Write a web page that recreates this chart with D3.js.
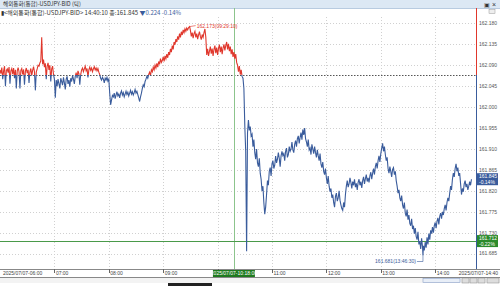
<!DOCTYPE html>
<html>
<head>
<meta charset="utf-8">
<script src="https://cdn.jsdelivr.net/npm/d3@7"></script>
<style>
  body { margin: 0; background: #fff; }
  text { font-family: "Liberation Sans Narrow", "Liberation Sans", sans-serif; }
  .kr { font-family: "Noto Sans CJK KR", "Noto Sans", sans-serif; }
</style>
</head>
<body>
<div id="chart"></div>
<script>
// tick data, USDJPY bid, 2025/07/07
var ticks = [
["06:00",162.080],["06:01",162.072],["06:02",162.085],["06:03",162.060],["06:04",162.078],["06:05",162.088],
["06:06",162.045],["06:07",162.079],["06:08",162.082],["06:09",162.074],["06:10",162.086],["06:11",162.050],
["06:12",162.078],["06:13",162.083],["06:14",162.071],["06:15",162.084],["06:16",162.062],["06:17",162.080],
["06:18",162.040],["06:19",162.078],["06:20",162.085],["06:21",162.076],["06:22",162.040],["06:23",162.079],
["06:24",162.083],["06:25",162.070],["06:26",162.081],["06:27",162.048],["06:28",162.077],["06:29",162.084],
["06:30",162.073],["06:31",162.080],["06:32",162.052],["06:33",162.076],["06:34",162.083],["06:35",162.068],
["06:36",162.079],["06:37",162.087],["06:38",162.076],["06:39",162.036],["06:40",162.075],["06:41",162.082],
["06:42",162.090],["06:43",162.088],["06:44",162.095],["06:45",162.099],["06:46",162.150],["06:47",162.092],
["06:48",162.102],["06:49",162.086],["06:50",162.094],["06:51",162.060],["06:52",162.088],["06:53",162.095],
["06:54",162.080],["06:55",162.090],["06:56",162.055],["06:57",162.082],["06:58",162.088],["06:59",162.070],
["07:00",162.060],["07:01",162.020],["07:02",162.058],["07:03",162.045],["07:04",162.060],["07:05",162.050],
["07:06",162.040],["07:07",162.062],["07:08",162.055],["07:09",162.047],["07:10",162.064],["07:11",162.052],
["07:12",162.038],["07:13",162.060],["07:14",162.066],["07:15",162.050],["07:16",162.058],["07:17",162.044],
["07:18",162.062],["07:19",162.055],["07:20",162.068],["07:21",162.060],["07:22",162.050],["07:23",162.066],
["07:24",162.074],["07:25",162.062],["07:26",162.078],["07:27",162.072],["07:28",162.048],["07:29",162.070],
["07:30",162.080],["07:31",162.084],["07:32",162.076],["07:33",162.082],["07:34",162.088],["07:35",162.078],
["07:36",162.083],["07:37",162.064],["07:38",162.080],["07:39",162.086],["07:40",162.079],["07:41",162.084],
["07:42",162.076],["07:43",162.082],["07:44",162.087],["07:45",162.080],["07:46",162.084],["07:47",162.078],
["07:48",162.083],["07:49",162.075],["07:50",162.070],["07:51",162.062],["07:52",162.058],["07:53",162.064],
["07:54",162.060],["07:55",162.052],["07:56",162.062],["07:57",162.058],["07:58",162.064],["07:59",162.056],
["08:00",162.060],["08:01",162.030],["08:02",162.005],["08:03",162.015],["08:04",162.025],["08:05",162.022],
["08:06",162.030],["08:07",162.018],["08:08",162.026],["08:09",162.033],["08:10",162.024],["08:11",162.028],
["08:12",162.020],["08:13",162.030],["08:14",162.035],["08:15",162.026],["08:16",162.031],["08:17",162.022],
["08:18",162.028],["08:19",162.034],["08:20",162.027],["08:21",162.032],["08:22",162.024],["08:23",162.030],
["08:24",162.036],["08:25",162.028],["08:26",162.033],["08:27",162.026],["08:28",162.031],["08:29",162.038],
["08:30",162.030],["08:31",162.034],["08:32",162.027],["08:33",162.020],["08:34",162.012],["08:35",162.022],
["08:36",162.030],["08:37",162.040],["08:38",162.048],["08:39",162.044],["08:40",162.055],["08:41",162.060],
["08:42",162.066],["08:43",162.062],["08:44",162.070],["08:45",162.075],["08:46",162.068],["08:47",162.080],
["08:48",162.076],["08:49",162.086],["08:50",162.080],["08:51",162.090],["08:52",162.084],["08:53",162.094],
["08:54",162.086],["08:55",162.098],["08:56",162.092],["08:57",162.104],["08:58",162.096],["08:59",162.100],
["09:00",162.108],["09:01",162.098],["09:02",162.110],["09:03",162.104],["09:04",162.114],["09:05",162.106],
["09:06",162.118],["09:07",162.112],["09:08",162.125],["09:09",162.118],["09:10",162.132],["09:11",162.124],
["09:12",162.140],["09:13",162.134],["09:14",162.146],["09:15",162.140],["09:16",162.152],["09:17",162.145],
["09:18",162.158],["09:19",162.150],["09:20",162.162],["09:21",162.155],["09:22",162.166],["09:23",162.160],
["09:24",162.168],["09:25",162.163],["09:26",162.170],["09:27",162.166],["09:28",162.171],["09:29:10",162.173],
["09:30",162.165],["09:31",162.152],["09:32",162.160],["09:33",162.148],["09:34",162.158],["09:35",162.163],
["09:36",162.150],["09:37",162.158],["09:38",162.146],["09:39",162.155],["09:40",162.162],["09:41",162.152],
["09:42",162.145],["09:43",162.156],["09:44",162.150],["09:45",162.160],["09:46",162.168],["09:47",162.150],
["09:48",162.112],["09:49",162.125],["09:50",162.110],["09:51",162.120],["09:52",162.130],["09:53",162.115],
["09:54",162.126],["09:55",162.110],["09:56",162.124],["09:57",162.132],["09:58",162.116],["09:59",162.128],
["10:00",162.112],["10:01",162.126],["10:02",162.134],["10:03",162.118],["10:04",162.130],["10:05",162.114],
["10:06",162.127],["10:07",162.135],["10:08",162.122],["10:09",162.132],["10:10",162.140],["10:11",162.124],
["10:12",162.136],["10:13",162.120],["10:14",162.130],["10:15",162.114],["10:16",162.124],["10:17",162.108],
["10:18",162.118],["10:19",162.104],["10:20",162.114],["10:21",162.096],["10:22",162.090],["10:23",162.076],
["10:24",162.088],["10:25",162.070],["10:26",162.080],["10:27",162.066],["10:28",162.062],["10:29",162.040],
["10:30",161.960],["10:31",161.905],["10:32",161.690],["10:33",161.945],["10:34",161.972],["10:35",161.950],
["10:36",161.958],["10:37",161.938],["10:38",161.942],["10:39",161.915],["10:40",161.930],["10:41",161.902],
["10:42",161.888],["10:43",161.910],["10:44",161.880],["10:45",161.872],["10:46",161.890],["10:47",161.858],
["10:48",161.845],["10:49",161.820],["10:50",161.830],["10:51",161.795],["10:52",161.770],["10:53",161.785],
["10:54",161.812],["10:55",161.842],["10:56",161.832],["10:57",161.862],["10:58",161.870],["10:59",161.852],
["11:00",161.878],["11:01",161.885],["11:02",161.868],["11:03",161.875],["11:04",161.895],["11:05",161.880],
["11:06",161.888],["11:07",161.902],["11:08",161.890],["11:09",161.872],["11:10",161.895],["11:11",161.905],
["11:12",161.896],["11:13",161.900],["11:14",161.885],["11:15",161.905],["11:16",161.912],["11:17",161.892],
["11:18",161.898],["11:19",161.915],["11:20",161.905],["11:21",161.910],["11:22",161.925],["11:23",161.908],
["11:24",161.902],["11:25",161.920],["11:26",161.928],["11:27",161.915],["11:28",161.932],["11:29",161.938],
["11:30",161.922],["11:31",161.935],["11:32",161.945],["11:33",161.930],["11:34",161.952],["11:35",161.940],
["11:36",161.955],["11:37",161.932],["11:38",161.925],["11:39",161.915],["11:40",161.930],["11:41",161.908],
["11:42",161.912],["11:43",161.898],["11:44",161.920],["11:45",161.910],["11:46",161.900],["11:47",161.915],
["11:48",161.902],["11:49",161.892],["11:50",161.908],["11:51",161.895],["11:52",161.885],["11:53",161.900],
["11:54",161.878],["11:55",161.870],["11:56",161.882],["11:57",161.862],["11:58",161.855],["11:59",161.868],
["12:00",161.848],["12:01",161.835],["12:02",161.852],["12:03",161.830],["12:04",161.818],["12:05",161.825],
["12:06",161.805],["12:07",161.812],["12:08",161.795],["12:09",161.785],["12:10",161.808],["12:11",161.815],
["12:12",161.798],["12:13",161.805],["12:14",161.820],["12:15",161.800],["12:16",161.790],["12:17",161.782],
["12:18",161.778],["12:19",161.795],["12:20",161.785],["12:21",161.812],["12:22",161.830],["12:23",161.842],
["12:24",161.828],["12:25",161.835],["12:26",161.848],["12:27",161.838],["12:28",161.825],["12:29",161.840],
["12:30",161.832],["12:31",161.845],["12:32",161.828],["12:33",161.836],["12:34",161.822],["12:35",161.838],
["12:36",161.845],["12:37",161.832],["12:38",161.840],["12:39",161.826],["12:40",161.842],["12:41",161.850],
["12:42",161.835],["12:43",161.846],["12:44",161.855],["12:45",161.840],["12:46",161.848],["12:47",161.838],
["12:48",161.852],["12:49",161.860],["12:50",161.845],["12:51",161.858],["12:52",161.868],["12:53",161.855],
["12:54",161.872],["12:55",161.880],["12:56",161.868],["12:57",161.885],["12:58",161.895],["12:59",161.882],
["13:00",161.900],["13:01",161.912],["13:02",161.922],["13:03",161.905],["13:04",161.915],["13:05",161.898],
["13:06",161.885],["13:07",161.892],["13:08",161.868],["13:09",161.858],["13:10",161.872],["13:11",161.862],
["13:12",161.850],["13:13",161.866],["13:14",161.870],["13:15",161.855],["13:16",161.862],["13:17",161.842],
["13:18",161.830],["13:19",161.815],["13:20",161.822],["13:21",161.805],["13:22",161.798],["13:23",161.810],
["13:24",161.790],["13:25",161.782],["13:26",161.795],["13:27",161.772],["13:28",161.765],["13:29",161.780],
["13:30",161.758],["13:31",161.768],["13:32",161.750],["13:33",161.745],["13:34",161.760],["13:35",161.738],
["13:36",161.745],["13:37",161.728],["13:38",161.740],["13:39",161.722],["13:40",161.715],["13:41",161.732],
["13:42",161.705],["13:43",161.712],["13:44",161.695],["13:45",161.718],["13:46",161.700],["13:46:30",161.681],
["13:47",161.702],["13:48",161.692],["13:49",161.710],["13:50",161.698],["13:51",161.720],["13:52",161.705],
["13:53",161.728],["13:54",161.715],["13:55",161.735],["13:56",161.728],["13:57",161.742],["13:58",161.730],
["13:59",161.745],["14:00",161.752],["14:01",161.740],["14:02",161.755],["14:03",161.762],["14:04",161.748],
["14:05",161.765],["14:06",161.772],["14:07",161.760],["14:08",161.775],["14:09",161.768],["14:10",161.782],
["14:11",161.790],["14:12",161.778],["14:13",161.795],["14:14",161.805],["14:15",161.798],["14:16",161.815],
["14:17",161.830],["14:18",161.822],["14:19",161.845],["14:20",161.858],["14:21",161.850],["14:22",161.868],
["14:23",161.878],["14:24",161.862],["14:25",161.870],["14:26",161.852],["14:27",161.858],["14:28",161.835],
["14:29",161.812],["14:30",161.825],["14:31",161.818],["14:32",161.835],["14:33",161.842],["14:34",161.828],
["14:35",161.835],["14:36",161.822],["14:37",161.830],["14:38",161.840],["14:39",161.832],["14:40",161.845]
];

var yTicks = [162.180, 162.135, 162.090, 162.045, 162.000, 161.955, 161.910, 161.865, 161.820, 161.775, 161.730, 161.685];
var xTicks = ["07:00", "08:00", "09:00", "10:00", "11:00", "12:00", "13:00", "14:00"];
var xLabels = ["07:00", "08:00", "09:00", "11:00", "12:00", "13:00", "14:00"]; // 10:00 sits under the crosshair box
var prevClose = 162.069;
var lastPrice = 161.845, lastChg = "-0.14%";
var crossTime = "10:18", crossPrice = 161.712, crossChg = "-0.22%";
var hiPoint = ["09:29:10", 162.173], loPoint = ["13:46:30", 161.681];

var W = 500, H = 286;
var plotL = 0, plotR = 476, plotT = 8, plotB = 269;
var red = "#e0372c", blue = "#3a5c9c", green = "#2b8a2b";
var fs = 5;

var parseT = function (t) { return d3.timeParse("%H:%M:%S")(t.length == 5 ? t + ":00" : t); };
var data = ticks.map(function (d) { return { t: parseT(d[0]), v: d[1] }; });

var x = d3.scaleTime().domain([parseT("06:00"), parseT("14:45")]).range([plotL, plotR]);
var y = d3.scaleLinear().domain([161.652, 162.213]).range([plotB, plotT]);

var svg = d3.select("#chart").append("svg").attr("width", W).attr("height", H);

// title bar
svg.append("rect").attr("x", 0).attr("y", 0).attr("width", W).attr("height", 8).attr("fill", "#dce8f4");
svg.append("line").attr("x1", 0).attr("x2", W).attr("y1", 8.5).attr("y2", 8.5).attr("stroke", "#b8cbe0");
svg.append("text").attr("class", "kr").attr("x", 3).attr("y", 6.3).attr("font-size", 5.6).attr("fill", "#333")
  .text("해외통화(통합)-USDJPY-BID (틱)");
svg.append("text").attr("x", 484).attr("y", 6.5).attr("font-size", 6).attr("fill", "#333").text("▣");
svg.append("text").attr("x", 492).attr("y", 6.5).attr("font-size", 7).attr("fill", "#333").text("×");

// grid
var g = svg.append("g");
g.selectAll(".hg").data(yTicks).enter().append("line")
  .attr("x1", plotL).attr("x2", plotR)
  .attr("y1", function (d) { return Math.round(y(d)) + 0.5; })
  .attr("y2", function (d) { return Math.round(y(d)) + 0.5; })
  .attr("stroke", "#d0d0d0").attr("stroke-dasharray", "1,2");
g.selectAll(".vg").data(xTicks).enter().append("line")
  .attr("x1", function (d) { return Math.round(x(parseT(d))) + 0.5; })
  .attr("x2", function (d) { return Math.round(x(parseT(d))) + 0.5; })
  .attr("y1", plotT + 9).attr("y2", plotB)
  .attr("stroke", "#d0d0d0").attr("stroke-dasharray", "1,2");

// previous close reference
var refY = y(prevClose);
svg.append("line").attr("x1", plotL).attr("x2", plotR)
  .attr("y1", Math.round(refY) + 0.5).attr("y2", Math.round(refY) + 0.5)
  .attr("stroke", "#555").attr("stroke-dasharray", "1.5,1.5");

// crosshair
svg.append("line").attr("x1", Math.round(x(parseT(crossTime))) + 0.5).attr("x2", Math.round(x(parseT(crossTime))) + 0.5)
  .attr("y1", plotT).attr("y2", plotB).attr("stroke", "#8cc48c");
svg.append("line").attr("x1", plotL).attr("x2", plotR)
  .attr("y1", Math.round(y(crossPrice)) + 0.5).attr("y2", Math.round(y(crossPrice)) + 0.5)
  .attr("stroke", "#4a9a4a");

// price line, red above previous close, blue below
var defs = svg.append("defs");
defs.append("clipPath").attr("id", "above").append("rect")
  .attr("x", plotL).attr("y", plotT).attr("width", plotR - plotL).attr("height", refY - plotT);
defs.append("clipPath").attr("id", "below").append("rect")
  .attr("x", plotL).attr("y", refY).attr("width", plotR - plotL).attr("height", plotB - refY);
var line = d3.line().x(function (d) { return x(d.t); }).y(function (d) { return y(d.v); });
svg.append("path").datum(data).attr("d", line).attr("fill", "none").attr("stroke", red)
  .attr("stroke-width", 1.1).attr("clip-path", "url(#above)");
svg.append("path").datum(data).attr("d", line).attr("fill", "none").attr("stroke", blue)
  .attr("stroke-width", 1.1).attr("clip-path", "url(#below)");

// high / low notes
var hx = x(parseT(hiPoint[0])), hy = y(hiPoint[1]);
svg.append("line").attr("x1", hx).attr("y1", hy).attr("x2", hx + 6).attr("y2", hy - 1).attr("stroke", red).attr("stroke-width", 0.6);
svg.append("text").attr("x", hx + 7).attr("y", hy + 1).attr("font-size", fs).attr("fill", red)
  .text(hiPoint[1].toFixed(3) + "(" + hiPoint[0] + ")");
var lx = x(parseT(loPoint[0])), ly = y(loPoint[1]);
svg.append("line").attr("x1", lx - 6).attr("y1", ly + 6).attr("x2", lx).attr("y2", ly + 6).attr("stroke", blue).attr("stroke-width", 0.6);
svg.append("line").attr("x1", lx).attr("y1", ly + 6).attr("x2", lx).attr("y2", ly).attr("stroke", blue).attr("stroke-width", 0.6);
svg.append("text").attr("x", lx - 7).attr("y", ly + 7.5).attr("text-anchor", "end").attr("font-size", fs).attr("fill", blue)
  .text(loPoint[1].toFixed(3) + "(" + loPoint[0] + ")");

// right axis
svg.append("line").attr("x1", plotR + 0.5).attr("x2", plotR + 0.5).attr("y1", plotT).attr("y2", refY).attr("stroke", red);
svg.append("line").attr("x1", plotR + 0.5).attr("x2", plotR + 0.5).attr("y1", refY).attr("y2", plotB).attr("stroke", blue);
svg.selectAll(".yl").data(yTicks).enter().append("text")
  .attr("x", plotR + 3).attr("y", function (d) { return y(d) + 1.8; })
  .attr("font-size", fs).attr("fill", "#555")
  .text(function (d) { return d.toFixed(3); });
svg.append("rect").attr("x", 489).attr("y", 9.5).attr("width", 6).attr("height", 4).attr("fill", "#eee").attr("stroke", "#999").attr("stroke-width", 0.5);

function priceTag(v, chg, color) {
  var ty = y(v);
  svg.append("rect").attr("x", plotR + 1).attr("y", ty - 6).attr("width", 21).attr("height", 12).attr("fill", color);
  svg.append("text").attr("x", plotR + 3).attr("y", ty - 1).attr("font-size", fs).attr("fill", "#fff").text(v.toFixed(3));
  svg.append("text").attr("x", plotR + 3).attr("y", ty + 4.5).attr("font-size", fs).attr("fill", "#fff").text(chg);
}
priceTag(lastPrice, lastChg, blue);
priceTag(crossPrice, crossChg, green);

// header line
var hdr = svg.append("text").attr("class", "kr").attr("x", 1).attr("y", 14.5).attr("font-size", 6).attr("fill", "#333");
hdr.append("tspan").text("▮<해외통화(통합)-USDJPY-BID> 14:40:10 종:" + lastPrice.toFixed(3) + " ");
hdr.append("tspan").attr("fill", blue).text("▼" + (prevClose - lastPrice).toFixed(3) + "  " + lastChg);

// time axis
svg.append("rect").attr("x", 0).attr("y", plotB).attr("width", W).attr("height", 8).attr("fill", "#fff");
svg.append("line").attr("x1", 0).attr("x2", W).attr("y1", plotB + 0.5).attr("y2", plotB + 0.5).attr("stroke", "#888");
svg.append("line").attr("x1", 0).attr("x2", W).attr("y1", plotB + 8.5).attr("y2", plotB + 8.5).attr("stroke", "#888");
svg.selectAll(".xt").data(xTicks).enter().append("line")
  .attr("x1", function (d) { return Math.round(x(parseT(d))) + 0.5; })
  .attr("x2", function (d) { return Math.round(x(parseT(d))) + 0.5; })
  .attr("y1", plotB).attr("y2", plotB + 4).attr("stroke", "#666");
svg.selectAll(".xl").data(xLabels).enter().append("text")
  .attr("x", function (d) { return x(parseT(d)) + 1.5; }).attr("y", plotB + 6)
  .attr("font-size", fs).attr("fill", "#444").text(function (d) { return d; });
svg.append("text").attr("x", 3).attr("y", plotB + 6).attr("font-size", fs).attr("fill", "#444").text("2025/07/07-06:00");
svg.append("text").attr("x", 498).attr("y", plotB + 6).attr("text-anchor", "end").attr("font-size", fs).attr("fill", "#444").text("2025/07/07-14:40");
var cx = x(parseT(crossTime));
svg.append("rect").attr("x", cx - 21).attr("y", plotB + 1).attr("width", 42).attr("height", 7).attr("fill", "#1f7a1f");
svg.append("text").attr("x", cx).attr("y", plotB + 6).attr("text-anchor", "middle").attr("font-size", fs).attr("fill", "#fff")
  .text("2025/07/07-" + crossTime + ":00");

// scroll bar
svg.append("rect").attr("x", 0).attr("y", 278).attr("width", W).attr("height", 5).attr("fill", "#f3f3f3");
svg.append("rect").attr("x", 423).attr("y", 278.5).attr("width", 37).attr("height", 4).attr("fill", "#e8eef7").attr("stroke", "#8aa0c8").attr("stroke-width", 0.6);
[462, 470, 478].forEach(function (bx) {
  svg.append("rect").attr("x", bx).attr("y", 278).attr("width", 7).attr("height", 5).attr("fill", "#ddd").attr("stroke", "#888").attr("stroke-width", 0.5);
});
svg.append("rect").attr("x", 487).attr("y", 278).attr("width", 12).attr("height", 5).attr("fill", "#ddd").attr("stroke", "#888").attr("stroke-width", 0.5);
svg.append("rect").attr("x", 168).attr("y", 283).attr("width", 44).attr("height", 3).attr("fill", "#222");
</script>
</body>
</html>
